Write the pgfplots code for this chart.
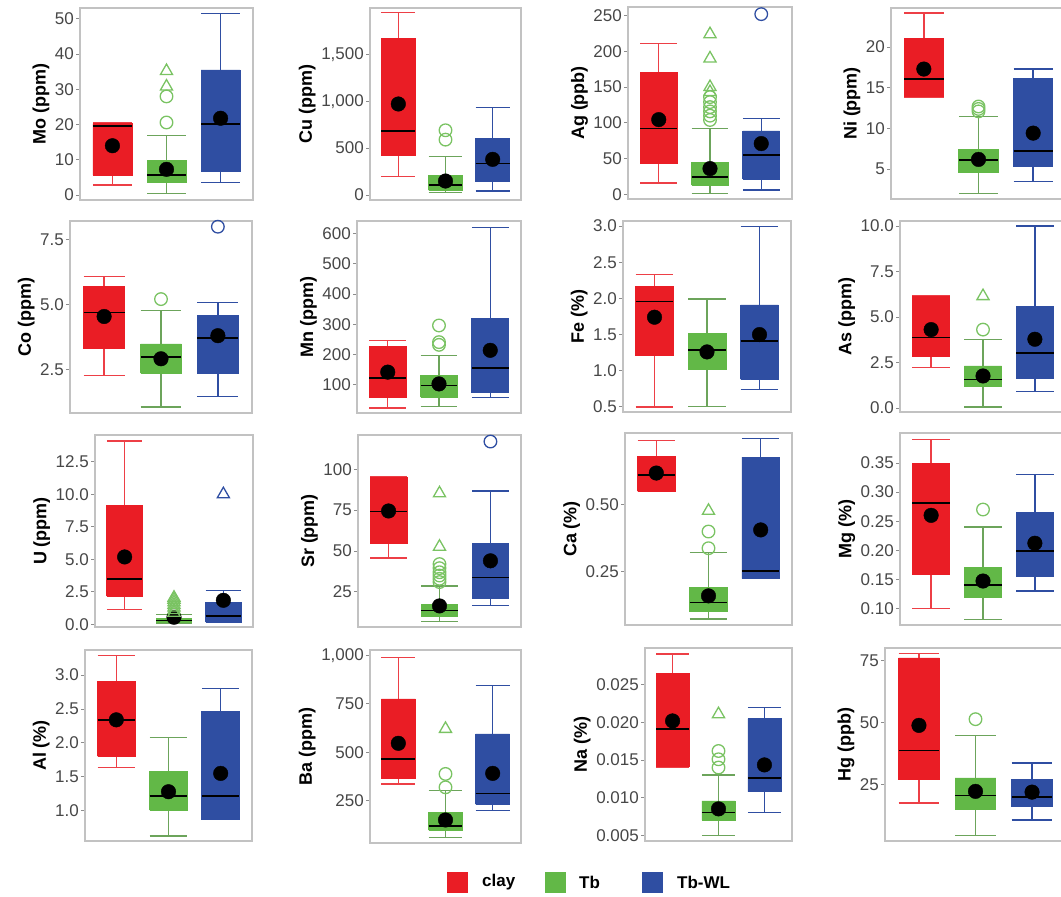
\documentclass[border=0pt]{standalone}
\usepackage{fontspec}
\setmainfont{Liberation Sans}
\usepackage{pgfplots}
\pgfplotsset{compat=1.18}

\definecolor{cRed}{HTML}{EA1D25}
\definecolor{cGreen}{HTML}{62B847}
\definecolor{cBlue}{HTML}{2F4EA2}
\colorlet{wRed}{cRed!85!white}
\colorlet{wGreen}{cGreen!65!gray}
\colorlet{wBlue}{cBlue}
\colorlet{oGreen}{cGreen!85!white}

% box edges and centre for the three groups
\def\xlA{0.64}\def\xcA{1}\def\xrA{1.36}
\def\xlB{1.64}\def\xcB{2}\def\xrB{2.36}
\def\xlC{2.64}\def\xcC{3}\def\xrC{3.36}

\pgfplotsset{
  panel/.style={
    scale only axis, anchor=south west, clip=false,
    xmin=0.4, xmax=3.6, xtick=\empty,
    ytick pos=left, scaled y ticks=false,
    tick align=outside, major tick length=4pt,
    ytick style={draw=black!45, line width=0.9pt},
    axis line style={draw=black!24, line width=1.1pt},
    yticklabel style={text=black!72, font=\fontsize{17}{17}\selectfont, inner xsep=2pt},
    ylabel style={font=\fontsize{18}{18}\selectfont\bfseries, text=black},
  },
  boxA/.style={draw=cRed, fill=cRed, line width=0.8pt},
  boxB/.style={draw=cGreen, fill=cGreen, line width=0.8pt},
  boxC/.style={draw=cBlue, fill=cBlue, line width=0.8pt},
  whiskA/.style={draw=wRed, line width=1.4pt},
  whiskB/.style={draw=wGreen, line width=1.4pt},
  whiskC/.style={draw=wBlue, line width=1.4pt},
  med/.style={draw=black, line width=1.5pt},
  outc/.style={only marks, mark=o, mark size=6.3pt, color=#1, line width=1.3pt},
  outt/.style={only marks, mark=triangle, mark size=7pt, color=#1, line width=1.3pt},
  meanpt/.style={only marks, mark=*, mark size=7.3pt, color=black},
}

% #1 group (A clay, B Tb, C Tb-WL); #2..#6 lower whisker, Q1, median, Q3, upper whisker
\newcommand{\bx}[6]{%
  \addplot[whisk#1] coordinates {(\csname xc#1\endcsname,#2) (\csname xc#1\endcsname,#6)};
  \addplot[whisk#1] coordinates {(\csname xl#1\endcsname,#2) (\csname xr#1\endcsname,#2)};
  \addplot[whisk#1] coordinates {(\csname xl#1\endcsname,#6) (\csname xr#1\endcsname,#6)};
  \addplot[box#1] coordinates {(\csname xl#1\endcsname,#3) (\csname xr#1\endcsname,#3)
    (\csname xr#1\endcsname,#5) (\csname xl#1\endcsname,#5) (\csname xl#1\endcsname,#3)};
  \addplot[med] coordinates {(\csname xl#1\endcsname,#4) (\csname xr#1\endcsname,#4)};
}

\begin{document}
\begin{tikzpicture}
\useasboundingbox (0pt,0pt) rectangle (1061pt,897pt);

% ---------------- Row 1 ----------------
\begin{axis}[panel, at={(80pt,697pt)}, width=173pt, height=192pt,
  ymin=-1.4, ymax=53.1, ytick={0,10,20,30,40,50}, yticklabels={0,10,20,30,40,50},
  ylabel={Mo (ppm)}]
\bx{A}{2.8}{5.7}{19.6}{20.3}{20.5}
\bx{B}{0.5}{3.5}{5.7}{9.7}{16.9}
\bx{C}{3.5}{6.6}{20.2}{35.5}{51.6}
\addplot[meanpt] coordinates {(1,14.0) (2,7.3) (3,21.8)};
\addplot[outt=oGreen] coordinates {(2,35.2) (2,30.8)};
\addplot[outc=oGreen] coordinates {(2,28.0) (2,20.6)};
\end{axis}

\begin{axis}[panel, at={(370pt,697pt)}, width=151pt, height=192pt,
  ymin=-53, ymax=1993, ytick={0,500,1000,1500}, yticklabels={0,500,{1,000},{1,500}},
  ylabel={Cu (ppm)}]
\bx{A}{195}{426}{682}{1670}{1943}
\bx{B}{30}{50}{107}{213}{408}
\bx{C}{43}{142}{338}{604}{935}
\addplot[meanpt] coordinates {(1,970) (2,149) (3,380)};
\addplot[outc=oGreen] coordinates {(2,690) (2,590)};
\end{axis}

\begin{axis}[panel, at={(628pt,698pt)}, width=164pt, height=192pt,
  ymin=-6.5, ymax=262, ytick={0,50,100,150,200,250}, yticklabels={0,50,100,150,200,250},
  ylabel={Ag (ppb)}]
\bx{A}{16}{43}{92}{171}{211}
\bx{B}{1.5}{13}{24.5}{44}{92}
\bx{C}{6}{21}{55}{88.6}{106}
\addplot[meanpt] coordinates {(1,104.5) (2,36) (3,71)};
\addplot[outt=oGreen] coordinates {(2,224) (2,190) (2,150) (2,143)};
\addplot[outc=oGreen] coordinates {(2,136) (2,129) (2,122) (2,116) (2,110) (2,104)};
\addplot[outc=cBlue] coordinates {(3,252)};
\end{axis}

\begin{axis}[panel, at={(891pt,698pt)}, width=175pt, height=191pt,
  ymin=1.34, ymax=24.8, ytick={5,10,15,20}, yticklabels={5,10,15,20},
  ylabel={Ni (ppm)}]
\bx{A}{13.8}{13.9}{16.1}{21.05}{24.2}
\bx{B}{2.04}{4.58}{6.15}{7.46}{11.5}
\bx{C}{3.47}{5.3}{7.25}{16.1}{17.3}
\addplot[meanpt] coordinates {(1,17.3) (2,6.2) (3,9.43)};
\addplot[outc=oGreen] coordinates {(2,12.1) (2,12.4) (2,12.7)};
\end{axis}

% ---------------- Row 2 ----------------
\begin{axis}[panel, at={(70pt,484pt)}, width=182pt, height=192pt,
  ymin=0.83, ymax=8.23, ytick={2.5,5,7.5}, yticklabels={2.5,5.0,7.5},
  ylabel={Co (ppm)}]
\bx{A}{2.28}{3.31}{4.71}{5.71}{6.09}
\bx{B}{1.06}{2.37}{2.99}{3.49}{4.77}
\bx{C}{1.47}{2.37}{3.72}{4.58}{5.09}
\addplot[meanpt] coordinates {(1,4.55) (2,2.92) (3,3.81)};
\addplot[outc=oGreen] coordinates {(2,5.22)};
\addplot[outc=cBlue] coordinates {(3,8.01)};
\end{axis}

\begin{axis}[panel, at={(357pt,484pt)}, width=164pt, height=192pt,
  ymin=7, ymax=641, ytick={100,200,300,400,500,600}, yticklabels={100,200,300,400,500,600},
  ylabel={Mn (ppm)}]
\bx{A}{24}{59}{123}{228}{247}
\bx{B}{29}{59}{98}{131}{197}
\bx{C}{59}{74}{155}{318}{620}
\addplot[meanpt] coordinates {(1,142) (2,103) (3,214)};
\addplot[outc=oGreen] coordinates {(2,296) (2,241) (2,232)};
\end{axis}

\begin{axis}[panel, at={(623pt,485pt)}, width=168pt, height=191pt,
  ymin=0.43, ymax=3.07, ytick={0.5,1,1.5,2,2.5,3}, yticklabels={0.5,1.0,1.5,2.0,2.5,3.0},
  ylabel={Fe (\%)}]
\bx{A}{0.5}{1.21}{1.96}{2.16}{2.33}
\bx{B}{0.51}{1.02}{1.29}{1.51}{1.99}
\bx{C}{0.74}{0.88}{1.41}{1.91}{2.99}
\addplot[meanpt] coordinates {(1,1.74) (2,1.26) (3,1.50)};
\end{axis}

\begin{axis}[panel, at={(900pt,485pt)}, width=166pt, height=191pt,
  ymin=-0.22, ymax=10.28, ytick={0,2.5,5,7.5,10}, yticklabels={0.0,2.5,5.0,7.5,10.0},
  ylabel={As (ppm)}]
\bx{A}{2.22}{2.86}{3.87}{6.11}{6.15}
\bx{B}{0.06}{1.19}{1.58}{2.31}{3.78}
\bx{C}{0.92}{1.61}{3.03}{5.56}{10.0}
\addplot[meanpt] coordinates {(1,4.31) (2,1.76) (3,3.78)};
\addplot[outc=oGreen] coordinates {(2,4.31)};
\addplot[outt=oGreen] coordinates {(2,6.15)};
\end{axis}

% ---------------- Row 3 ----------------
\begin{axis}[panel, at={(95pt,270pt)}, width=158pt, height=192pt,
  ymin=-0.2, ymax=14.55, ytick={0,2.5,5,7.5,10,12.5}, yticklabels={0.0,2.5,5.0,7.5,10.0,12.5},
  ylabel={U (ppm)}]
\bx{A}{1.16}{2.16}{3.47}{9.16}{14.1}
\bx{B}{0.05}{0.18}{0.31}{0.49}{0.75}
\bx{C}{0.18}{0.18}{0.64}{1.72}{2.62}
\addplot[meanpt] coordinates {(1,5.18) (2,0.55) (3,1.85)};
\addplot[outt=oGreen] coordinates {(2,0.9) (2,1.1) (2,1.3) (2,1.5) (2,1.7) (2,1.9) (2,2.05)};
\addplot[outt=cBlue] coordinates {(3,10.0)};
\end{axis}

\begin{axis}[panel, at={(358pt,270pt)}, width=163pt, height=192pt,
  ymin=3.5, ymax=121, ytick={25,50,75,100}, yticklabels={25,50,75,100},
  ylabel={Sr (ppm)}]
\bx{A}{45.8}{54.6}{74.05}{95.1}{95.5}
\bx{B}{7.0}{10.1}{13.6}{17.4}{28.7}
\bx{C}{16.8}{20.9}{33.8}{54.6}{86.7}
\addplot[meanpt] coordinates {(1,74.5) (2,16.4) (3,44.0)};
\addplot[outt=oGreen] coordinates {(2,85.3) (2,52.6)};
\addplot[outc=oGreen] coordinates {(2,42) (2,39.5) (2,37) (2,35) (2,33) (2,31)};
\addplot[outc=cBlue] coordinates {(3,117)};
\end{axis}

\begin{axis}[panel, at={(625pt,272pt)}, width=167pt, height=192pt,
  ymin=0.05, ymax=0.769, ytick={0.25,0.5}, yticklabels={0.25,0.50},
  ylabel={Ca (\%)}]
\bx{A}{0.55}{0.55}{0.6125}{0.681}{0.74}
\bx{B}{0.0725}{0.10}{0.134}{0.19}{0.321}
\bx{C}{0.225}{0.225}{0.2525}{0.679}{0.7475}
\addplot[meanpt] coordinates {(1,0.619) (2,0.159) (3,0.406)};
\addplot[outt=oGreen] coordinates {(2,0.4775)};
\addplot[outc=oGreen] coordinates {(2,0.40) (2,0.3375)};
\end{axis}

\begin{axis}[panel, at={(900pt,272pt)}, width=166pt, height=192pt,
  ymin=0.0713, ymax=0.4017, ytick={0.1,0.15,0.2,0.25,0.3,0.35},
  yticklabels={0.10,0.15,0.20,0.25,0.30,0.35},
  ylabel={Mg (\%)}]
\bx{A}{0.10}{0.159}{0.281}{0.35}{0.391}
\bx{B}{0.081}{0.118}{0.14}{0.17}{0.2397}
\bx{C}{0.13}{0.1546}{0.199}{0.2655}{0.33}
\addplot[meanpt] coordinates {(1,0.26) (2,0.147) (3,0.212)};
\addplot[outc=oGreen] coordinates {(2,0.27)};
\end{axis}

% ---------------- Row 4 ----------------
\begin{axis}[panel, at={(85pt,56pt)}, width=167pt, height=191pt,
  ymin=0.553, ymax=3.37, ytick={1,1.5,2,2.5,3}, yticklabels={1.0,1.5,2.0,2.5,3.0},
  ylabel={Al (\%)}]
\bx{A}{1.64}{1.80}{2.34}{2.91}{3.285}
\bx{B}{0.627}{1.01}{1.22}{1.575}{2.08}
\bx{C}{0.87}{0.87}{1.22}{2.47}{2.80}
\addplot[meanpt] coordinates {(1,2.34) (2,1.28) (3,1.55)};
\end{axis}

\begin{axis}[panel, at={(370pt,54pt)}, width=151pt, height=193pt,
  ymin=31, ymax=1029, ytick={250,500,750,1000}, yticklabels={250,500,750,{1,000}},
  ylabel={Ba (ppm)}]
\bx{A}{336}{365.5}{465.5}{776}{991}
\bx{B}{60}{98}{119}{188}{302}
\bx{C}{198}{231}{288}{595}{845}
\addplot[meanpt] coordinates {(1,546.5) (2,150) (3,391)};
\addplot[outt=oGreen] coordinates {(2,621)};
\addplot[outc=oGreen] coordinates {(2,388) (2,319)};
\end{axis}

\begin{axis}[panel, at={(645pt,56pt)}, width=147pt, height=193pt,
  ymin=0.00423, ymax=0.0299, ytick={0.005,0.01,0.015,0.02,0.025},
  yticklabels={0.005,0.010,0.015,0.020,0.025},
  ylabel={Na (\%)}]
\bx{A}{0.014}{0.01421}{0.0191}{0.02655}{0.02908}
\bx{B}{0.005}{0.00703}{0.008}{0.00956}{0.013}
\bx{C}{0.008}{0.0108}{0.0126}{0.0205}{0.022}
\addplot[meanpt] coordinates {(1,0.0202) (2,0.0085) (3,0.01435)};
\addplot[outt=oGreen] coordinates {(2,0.0211)};
\addplot[outc=oGreen] coordinates {(2,0.0162) (2,0.0151) (2,0.014)};
\end{axis}

\begin{axis}[panel, at={(885pt,56pt)}, width=181pt, height=193pt,
  ymin=2.3, ymax=80.1, ytick={25,50,75}, yticklabels={25,50,75},
  ylabel={Hg (ppb)}]
\bx{A}{17.6}{27.0}{38.8}{76.1}{78}
\bx{B}{4.5}{14.9}{20.7}{27.7}{44.9}
\bx{C}{10.8}{16.2}{20.0}{27.0}{33.8}
\addplot[meanpt] coordinates {(1,48.9) (2,22.3) (3,22.0)};
\addplot[outc=oGreen] coordinates {(2,51.4)};
\end{axis}

% ---------------- Legend ----------------
\fill[cRed] (447pt,4pt) rectangle (468pt,25pt);
\node[anchor=west, font=\fontsize{17}{17}\selectfont\bfseries, inner sep=0pt] at (482pt,15pt) {clay};
\fill[cGreen] (545pt,4pt) rectangle (566pt,25pt);
\node[anchor=west, font=\fontsize{17}{17}\selectfont\bfseries, inner sep=0pt] at (579pt,15pt) {Tb};
\fill[cBlue] (642pt,4pt) rectangle (663pt,25pt);
\node[anchor=west, font=\fontsize{17}{17}\selectfont\bfseries, inner sep=0pt] at (677pt,15pt) {Tb-WL};
\end{tikzpicture}
\end{document}
